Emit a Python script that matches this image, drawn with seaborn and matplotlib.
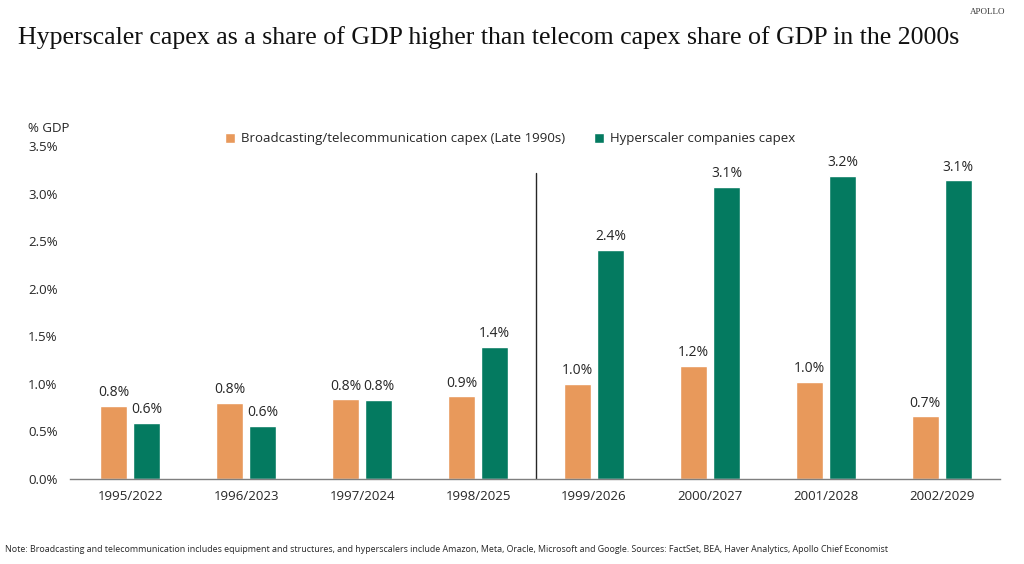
"""Hyperscaler vs telecom capex as a share of GDP, grouped bar chart."""

import matplotlib.pyplot as plt
import pandas as pd
import seaborn as sns

periods = ["1995/2022", "1996/2023", "1997/2024", "1998/2025",
           "1999/2026", "2000/2027", "2001/2028", "2002/2029"]
telecom = [0.77, 0.80, 0.84, 0.87, 1.00, 1.19, 1.02, 0.66]
hyperscaler = [0.59, 0.56, 0.83, 1.39, 2.41, 3.07, 3.19, 3.14]

TELECOM = "Broadcasting/telecommunication capex (Late 1990s)"
HYPER = "Hyperscaler companies capex"
PALETTE = {TELECOM: "#E8995B", HYPER: "#047A60"}

sns.set_theme(style="white")
plt.rcParams["font.family"] = ["Open Sans", "DejaVu Sans"]

df = pd.DataFrame({
    "period": periods * 2,
    "value": telecom + hyperscaler,
    "series": [TELECOM] * len(periods) + [HYPER] * len(periods),
})

fig = plt.figure(figsize=(10.24, 5.64), dpi=100)
ax = fig.add_axes([0.0684, 0.1507, 0.908, 0.5904])

sns.barplot(data=df, x="period", y="value", hue="series", order=periods,
            hue_order=[TELECOM, HYPER], palette=PALETTE, width=0.57, gap=0.18,
            saturation=1, errorbar=None, ax=ax)

for cont in ax.containers:
    ax.bar_label(cont, fmt="{:.1f}%", padding=4, fontsize=10, color="#262626")

ax.set_xlim(-0.52, 7.50)
ax.set_ylim(0, 3.5)
ax.set_yticks([0, 0.5, 1.0, 1.5, 2.0, 2.5, 3.0, 3.5])
ax.set_yticklabels([f"{t:.1f}%" for t in ax.get_yticks()])
ax.tick_params(axis="both", labelsize=9.5, colors="#262626", length=0)
ax.tick_params(axis="y", pad=9)
ax.tick_params(axis="x", pad=8)
ax.set_xlabel("")
ax.set_ylabel("")
for side in ["top", "right", "left"]:
    ax.spines[side].set_visible(False)
ax.spines["bottom"].set_color("#7f7f7f")
ax.spines["bottom"].set_linewidth(1.0)

# separator between the 1990s-only and projection years
ax.plot([3.5, 3.5], [0, 3.22], color="#262626", linewidth=1.0)

ax.text(-0.045, 1.054, "% GDP", transform=ax.transAxes, fontsize=9.5,
        color="#262626", ha="left", va="center")

handles, labels = ax.get_legend_handles_labels()
ax.legend(handles, labels, loc="center", bbox_to_anchor=(0.473, 1.022), ncol=2,
          frameon=False, fontsize=9.5, handlelength=0.8, handleheight=0.8,
          handletextpad=0.4, columnspacing=2.2, borderaxespad=0)

fig.text(0.0176, 0.934, "Hyperscaler capex as a share of GDP higher than telecom capex share of GDP in the 2000s",
         family="Liberation Serif", fontsize=18.6, color="#111111", ha="left", va="center")
fig.text(0.982, 0.979, "APOLLO", family="Liberation Serif", fontsize=6.5,
         color="#333333", ha="right", va="center")
fig.text(0.005, 0.025, "Note: Broadcasting and telecommunication includes equipment and structures, and hyperscalers include "
         "Amazon, Meta, Oracle, Microsoft and Google. Sources: FactSet, BEA, Haver Analytics, Apollo Chief Economist",
         fontsize=6.4, color="#262626", ha="left", va="center")

fig.savefig("out.png", dpi=100, facecolor="white")
